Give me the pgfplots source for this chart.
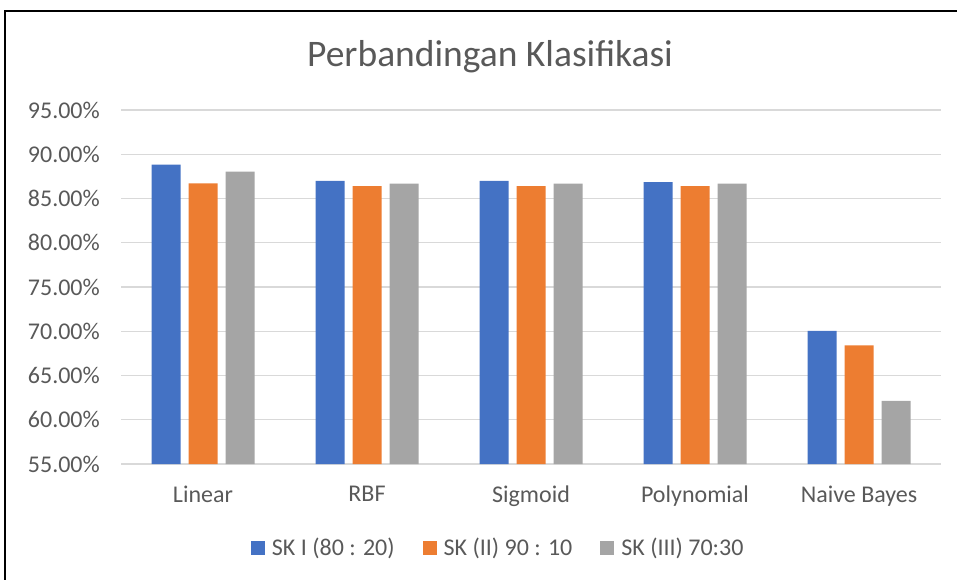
\documentclass[border=0pt]{standalone}
\usepackage{fontspec}
\setmainfont{Carlito}
\usepackage{pgfplots}
\pgfplotsset{compat=1.18}
\definecolor{cBlue}{HTML}{4472C4}
\definecolor{cOrange}{HTML}{ED7D31}
\definecolor{cGray}{HTML}{A5A5A5}
\definecolor{cText}{HTML}{595959}
\definecolor{cGrid}{HTML}{D9D9D9}
\begin{document}
\begin{tikzpicture}
\useasboundingbox (0,0) rectangle (957bp,-580bp);
\begin{scope}
\clip (0,0) rectangle (957bp,-580bp);
\draw[black, line width=1.6bp] (5bp,-11bp) rectangle (1000bp,-620bp);
\end{scope}
\begin{axis}[
  at={(121bp,-464bp)}, anchor=south west,
  scale only axis, width=820bp, height=354bp,
  ybar=8bp, bar width=29bp,
  xmin=-0.5, xmax=4.5, ymin=55, ymax=95,
  xtick={0,1,2,3,4},
  xticklabels={Linear,RBF,Sigmoid,Polynomial,Naive Bayes},
  ytick={55,60,65,70,75,80,85,90,95},
  yticklabels={55.00\%,60.00\%,65.00\%,70.00\%,75.00\%,80.00\%,85.00\%,90.00\%,95.00\%},
  major tick length=0pt,
  axis x line*=bottom, axis y line*=left,
  x axis line style={draw=cGrid, line width=1.3bp, -},
  y axis line style={draw=none},
  ymajorgrids, grid style={draw=cGrid, line width=1.3bp},
  ticklabel style={font=\fontsize{24bp}{28bp}\selectfont, text=cText},
  yticklabel style={anchor=east, inner sep=0pt, xshift=-21bp},
  xticklabel style={anchor=north, inner sep=0pt, yshift=-22bp},
  title={Perbandingan Klasifikasi},
  title style={at={(0.45,1.135)}, anchor=center, font=\fontsize{37.5bp}{42bp}\selectfont, text=cText},
  legend columns=3,
  legend style={at={(0.46,-0.237)}, anchor=center, draw=none, fill=none,
    font=\fontsize{24bp}{28bp}\selectfont, text=cText,
    /tikz/every even column/.append style={column sep=26bp}},
  legend image code/.code={\fill[#1] (0bp,-7bp) rectangle (14bp,7bp); \path (19bp,0bp);},
]
\addplot[draw=none, fill=cBlue] coordinates {(0,88.82) (1,87.00) (2,87.00) (3,86.86) (4,70.03)};
\addplot[draw=none, fill=cOrange] coordinates {(0,86.72) (1,86.41) (2,86.41) (3,86.41) (4,68.41)};
\addplot[draw=none, fill=cGray] coordinates {(0,88.03) (1,86.68) (2,86.68) (3,86.68) (4,62.12)};
\legend{SK I (80 : 20), SK (II) 90 : 10, SK (III) 70:30}
\end{axis}
\end{tikzpicture}
\end{document}
